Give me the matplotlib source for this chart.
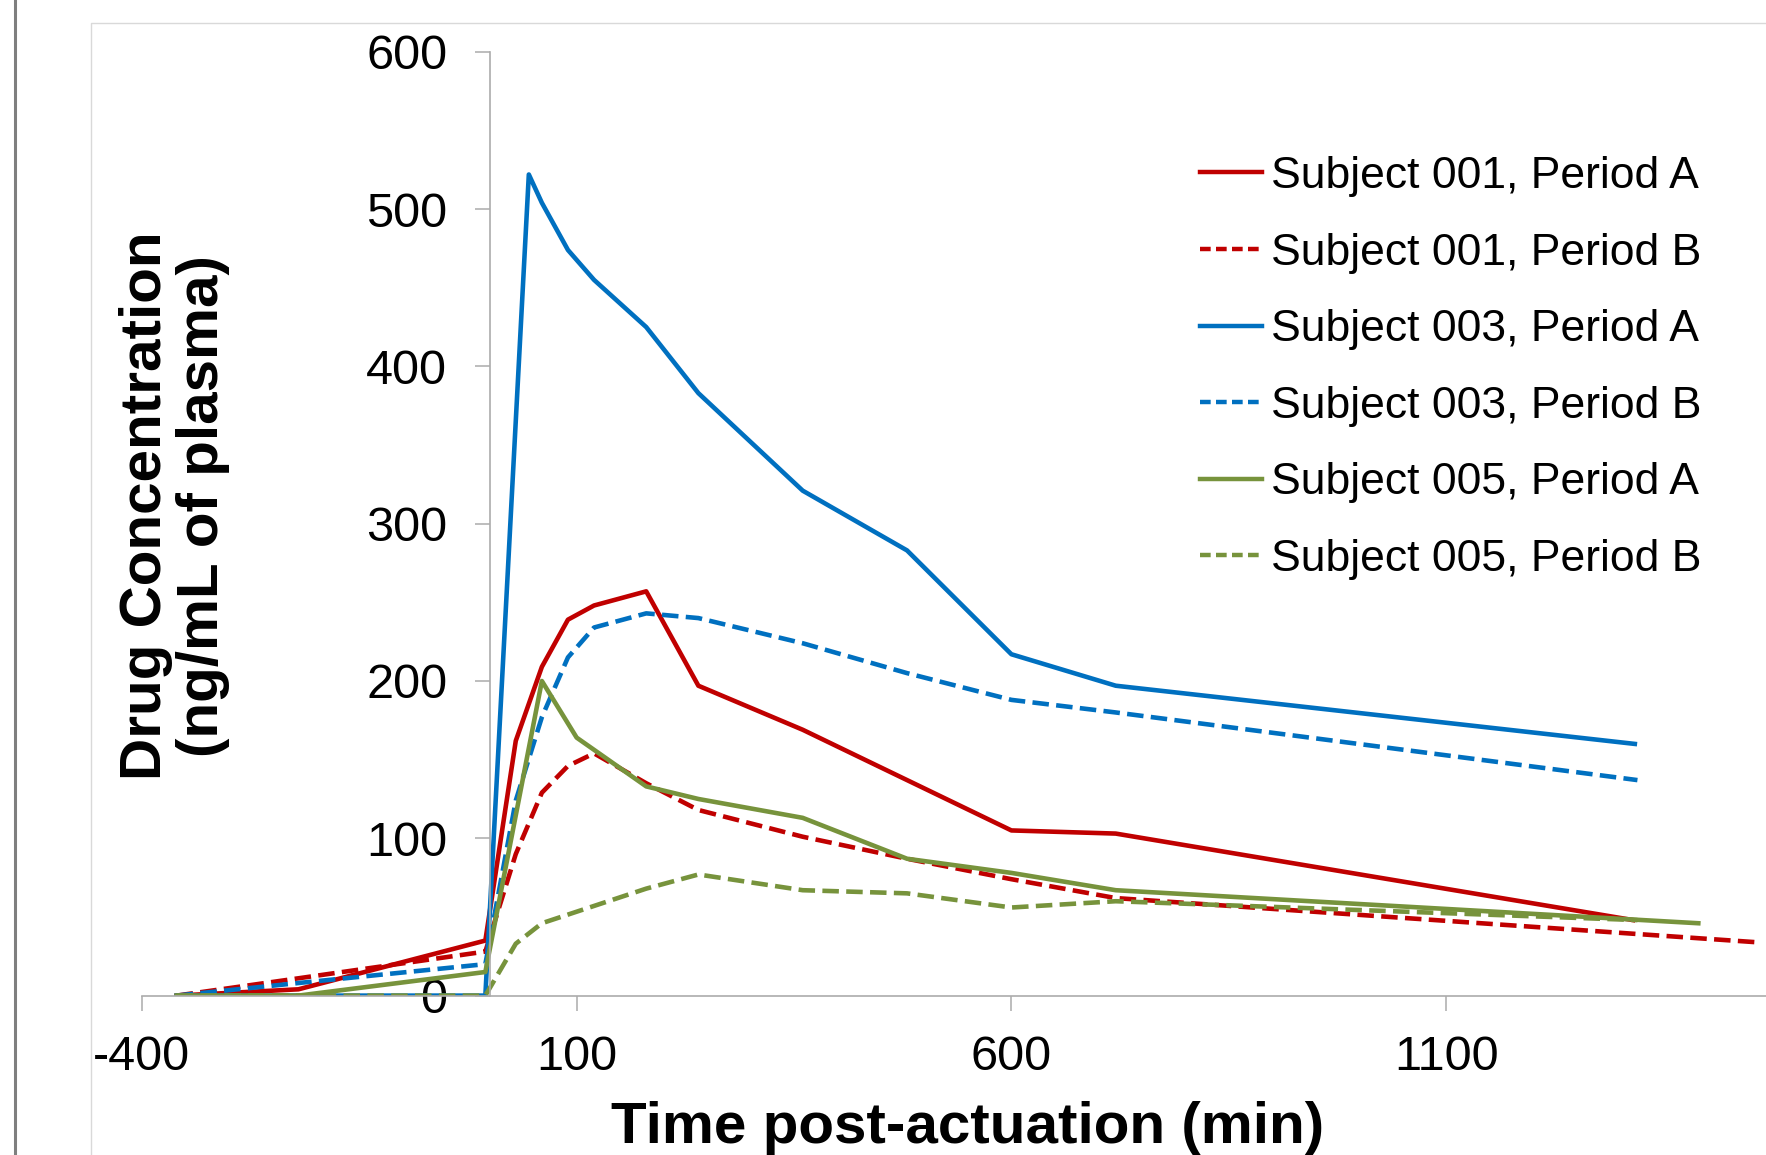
import matplotlib
matplotlib.use('Agg')
import matplotlib.pyplot as plt
from matplotlib.lines import Line2D

plt.rcParams['font.family'] = ['Liberation Sans', 'DejaVu Sans']
plt.rcParams['axes.unicode_minus'] = False

# tiempos (min) y concentraciones (ng/mL)
t_001a = [-360, -220, -5, 30, 60, 90, 120, 180, 240, 360, 600, 720, 1315]
c_001a = [0, 4, 35, 162, 209, 239, 248, 257, 197, 169, 105, 103, 48]

t_001b = [-360, -220, -5, 30, 60, 90, 120, 180, 240, 360, 480, 600, 720, 1455]
c_001b = [0, 11, 28, 90, 129, 146, 154, 135, 118, 101, 87, 74, 62, 34]

t_003a = [-360, -220, -5, 45, 60, 90, 120, 180, 240, 360, 480, 600, 720, 1317]
c_003a = [0, 0, 0, 522, 504, 474, 455, 425, 383, 321, 283, 217, 197, 160]

t_003b = [-360, -220, -5, 30, 60, 90, 120, 180, 240, 360, 480, 600, 720, 1320]
c_003b = [0, 8, 20, 124, 177, 215, 234, 243, 240, 224, 205, 188, 180, 137]

t_005a = [-360, -220, -5, 60, 100, 180, 240, 360, 480, 600, 720, 1390]
c_005a = [0, 0, 15, 200, 164, 133, 125, 113, 87, 78, 67, 46]

t_005b = [-360, -220, -5, 30, 60, 120, 180, 240, 360, 480, 600, 720, 1320]
c_005b = [0, 0, 0, 33, 46, 57, 68, 77, 67, 65, 56, 60, 48]

labels = ['Subject 001, Period A', 'Subject 001, Period B',
          'Subject 003, Period A', 'Subject 003, Period B',
          'Subject 005, Period A', 'Subject 005, Period B']
# 1600 queda fuera de la imagen recortada
x_ticks = [-400, 100, 600, 1100]
y_ticks = [0, 100, 200, 300, 400, 500, 600]

rojo = '#C00000'
azul = '#0070C0'
verde = '#77933C'
gris = '#ABABAB'

series = [
    (t_001a, c_001a, rojo, '-'),
    (t_001b, c_001b, rojo, '--'),
    (t_003a, c_003a, azul, '-'),
    (t_003b, c_003b, azul, '--'),
    (t_005a, c_005a, verde, '-'),
    (t_005b, c_005b, verde, '--'),
]

W, H = 1766, 1155
fig = plt.figure(figsize=(W / 100, H / 100), dpi=100)

# marco del grafico (como en Excel)
fig.add_artist(Line2D([15 / W, 15 / W], [0, 1], color='#7F7F7F', lw=2.2))
fig.add_artist(Line2D([91 / W, 91 / W, 1], [0, 1 - 23 / H, 1 - 23 / H], color='#D9D9D9', lw=1.0))

ax = fig.add_axes([141.9 / W, 159.4 / H, 1739 / W, 943.8 / H])

handles = []
for (t, c, col, ls), lab in zip(series, labels):
    if ls == '--':
        ax.plot(t, c, color=col, lw=3.3, dashes=(3.6, 1.6), solid_joinstyle='round')
        handles.append(Line2D([], [], color=col, lw=3.2, dashes=(2.4, 1.2), label=lab))
    else:
        ax.plot(t, c, color=col, lw=3.3, solid_joinstyle='round')
        handles.append(Line2D([], [], color=col, lw=3.2, label=lab))

ax.set_xlim(-400, 1600)
ax.set_ylim(0, 600)
ax.set_xticks(x_ticks)
ax.set_yticks(y_ticks)

ax.spines['top'].set_visible(False)
ax.spines['right'].set_visible(False)
ax.spines['left'].set_position(('data', 0))
for s in ['left', 'bottom']:
    ax.spines[s].set_color(gris)
    ax.spines[s].set_linewidth(1.2)
ax.tick_params(axis='both', direction='out', length=10.5, width=1.1, color=gris,
               labelsize=35, labelcolor='black')
ax.tick_params(axis='y', pad=20)
ax.tick_params(axis='x', pad=18)

ax.legend(handles=handles, loc='upper left', bbox_to_anchor=(1199.5 / W, 1 - 156 / H),
          bbox_transform=fig.transFigure, frameon=False, fontsize=32, borderpad=0,
          borderaxespad=0, handlelength=1.4, handletextpad=0.2, labelspacing=0.80)

fig.text(968 / W, 12 / H, 'Time post-actuation (min)', ha='center', va='baseline',
         fontsize=42, fontweight='bold')
fig.text(174.5 / W, 1 - 506 / H, 'Drug Concentration\n(ng/mL of plasma)', rotation=90,
         ha='center', va='center', multialignment='center', fontsize=42,
         fontweight='bold', linespacing=1.05)

fig.savefig('out.png', dpi=100)
